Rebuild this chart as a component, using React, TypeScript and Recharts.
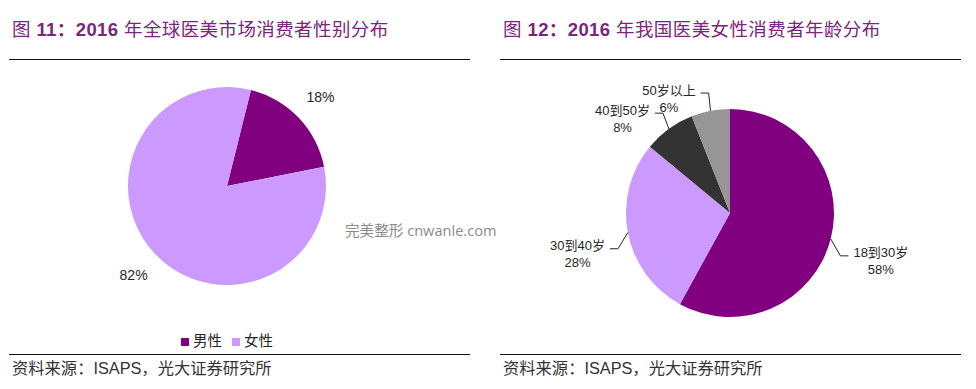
import { PieChart, Pie, Cell, Legend } from 'recharts';

const genderNames = ['男性', '女性'];
const genderShares = [18, 82];
const ageGroups = ['18到30岁', '30到40岁', '40到50岁', '50岁以上'];
const ageShares = [58, 28, 8, 6];
const titles = ['图 11：2016 年全球医美市场消费者性别分布', '图 12：2016 年我国医美女性消费者年龄分布'];
const sourceText = '资料来源：ISAPS，光大证券研究所';
const watermark = '完美整形 cnwanle.com';

const genderColors = ['#800080', '#cc99ff'];
const ageColors = ['#800080', '#cc99ff', '#333333', '#969696'];

const genderData = genderNames.map((name, i) => ({ name, value: genderShares[i] }));
const ageData = ageGroups.map((name, i) => ({ name, value: ageShares[i] }));

const FONT = '"Liberation Sans", Arial, "Noto Sans CJK SC", sans-serif';
const RAD = Math.PI / 180;
const TEXT = '#262626';

// rough text width, good enough to centre the two label lines
const estWidth = (s: string, fs: number) =>
  [...s].reduce((w, ch) => w + (/[\u4e00-\u9fff]/.test(ch) ? fs : fs * 0.556), 0);

function Title({ text, left }: { text: string; left: number }) {
  const parts = text.split(/(\d+：\d+)/);
  return (
    <div
      style={{
        position: 'absolute',
        left,
        top: 19,
        fontSize: 18.5,
        letterSpacing: 0.4,
        lineHeight: '22px',
        color: '#7a267c',
        fontFamily: FONT,
        whiteSpace: 'nowrap',
      }}
    >
      {parts.map((p, i) =>
        i % 2 ? (
          <b key={i}>{p}</b>
        ) : (
          <span key={i}>{p}</span>
        )
      )}
    </div>
  );
}

function Rule({ left, width, top }: { left: number; width: number; top: number }) {
  return <div style={{ position: 'absolute', left, width, top, height: 1.5, background: '#111' }} />;
}

function Source({ left }: { left: number }) {
  return (
    <div
      style={{
        position: 'absolute',
        left,
        top: 358,
        fontSize: 16.3,
        lineHeight: '20px',
        color: '#333',
        fontFamily: FONT,
        whiteSpace: 'nowrap',
      }}
    >
      {sourceText}
    </div>
  );
}

const renderGenderLabel = (p: any) => {
  const r = p.outerRadius + 30;
  const x = p.cx + r * Math.cos(-p.midAngle * RAD);
  const y = p.cy + r * Math.sin(-p.midAngle * RAD);
  return (
    <text x={x} y={y} textAnchor="middle" dominantBaseline="central" fontSize={14} fill={TEXT} fontFamily={FONT}>
      {p.value}%
    </text>
  );
};

const renderAgeLabel = (p: any) => {
  const cos = Math.cos(-p.midAngle * RAD);
  const sin = Math.sin(-p.midAngle * RAD);
  const sx = p.cx + p.outerRadius * cos;
  const sy = p.cy + p.outerRadius * sin;
  const ex = sx + 10 * cos;
  const ey = sy + 12 * sin + (sin > 0 ? 14 : -6);
  const dir = cos >= 0 ? 1 : -1;
  const hx = ex + dir * 8;
  const w = estWidth(p.name, 13);
  const tx = hx + dir * (5 + w / 2);
  return (
    <g>
      <polyline points={`${sx},${sy} ${ex},${ey} ${hx},${ey}`} fill="none" stroke={TEXT} strokeWidth={1} />
      <text x={tx} y={ey - 3} textAnchor="middle" dominantBaseline="central" fontSize={13} fill={TEXT} fontFamily={FONT}>
        {p.name}
      </text>
      <text x={tx} y={ey + 14} textAnchor="middle" dominantBaseline="central" fontSize={13} fill={TEXT} fontFamily={FONT}>
        {p.value}%
      </text>
    </g>
  );
};

export default function App() {
  return (
    <div
      style={{
        position: 'fixed',
        left: 0,
        top: 0,
        width: 976,
        height: 389,
        background: '#fff',
        overflow: 'hidden',
        fontFamily: FONT,
      }}
    >
      <Title text={titles[0]} left={12} />
      <Title text={titles[1]} left={503} />
      <Rule left={9} width={461} top={58.5} />
      <Rule left={500} width={461} top={58.5} />
      <Rule left={9} width={461} top={353.5} />
      <Rule left={500} width={461} top={353.5} />
      <Source left={12} />
      <Source left={503} />

      <div style={{ position: 'absolute', left: 0, top: 0 }}>
        <PieChart width={488} height={389} margin={{ top: 0, right: 0, bottom: 0, left: 0 }}>
          <Pie
            data={genderData}
            dataKey="value"
            nameKey="name"
            cx={227}
            cy={186}
            outerRadius={99}
            startAngle={76}
            endAngle={-284}
            stroke="none"
            label={renderGenderLabel}
            labelLine={false}
            isAnimationActive={false}
          >
            {genderData.map((d, i) => (
              <Cell key={d.name} fill={genderColors[i]} />
            ))}
          </Pie>
          <Legend
            iconType="square"
            iconSize={8}
            itemSorter={(item: any) => genderNames.indexOf(item.value)}
            formatter={(v) => <span style={{ color: TEXT }}>{v}</span>}
            wrapperStyle={{ top: 331, left: 0, width: 464, fontSize: 14.5, lineHeight: '20px', fontFamily: FONT }}
          />
        </PieChart>
      </div>

      <div style={{ position: 'absolute', left: 488, top: 0 }}>
        <PieChart width={488} height={389} margin={{ top: 0, right: 0, bottom: 0, left: 0 }}>
          <Pie
            data={ageData}
            dataKey="value"
            nameKey="name"
            cx={242}
            cy={213}
            outerRadius={104}
            startAngle={90}
            endAngle={-270}
            stroke="none"
            label={renderAgeLabel}
            labelLine={false}
            isAnimationActive={false}
          >
            {ageData.map((d, i) => (
              <Cell key={d.name} fill={ageColors[i]} />
            ))}
          </Pie>
        </PieChart>
      </div>

      <div
        style={{
          position: 'absolute',
          left: 345,
          top: 220,
          fontSize: 14.6,
          lineHeight: '20px',
          color: '#8a8a8a',
          fontFamily: '"Open Sans", "Noto Sans CJK SC", sans-serif',
          whiteSpace: 'nowrap',
        }}
      >
        {watermark}
      </div>
    </div>
  );
}
